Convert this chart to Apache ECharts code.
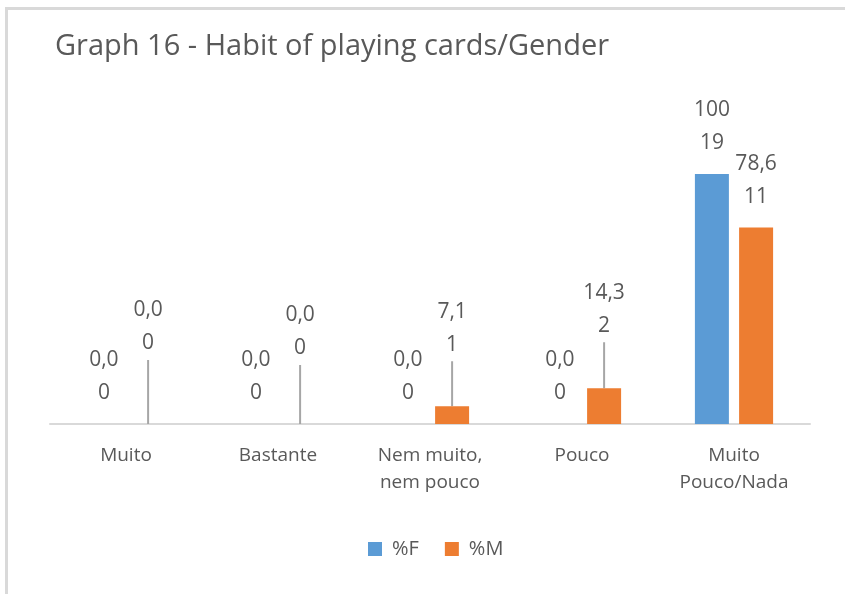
<!DOCTYPE html>
<html>
<head>
<meta charset="utf-8">
<script src="https://cdn.jsdelivr.net/npm/echarts@6/dist/echarts.min.js"></script>
<style>
 body { margin: 0; background: #fff; }
 #main { width: 845px; height: 594px; }
</style>
</head>
<body>
<div id="main"></div>
<script>
 var categories = ["Muito", "Bastante", "Nem muito,\nnem pouco", "Pouco", "Muito\nPouco/Nada"];
 var pctF = [0, 0, 0, 0, 100];
 var pctM = [0, 0, 7.1, 14.3, 78.6];
 var countF = [0, 0, 0, 0, 19];
 var countM = [0, 0, 1, 2, 11];
 // how far the %M labels were dragged up in the original
 var liftM = [-50, -45, -31, -32, 0];

 var textColor = "#595959";
 var font = "'Open Sans', 'Noto Sans', sans-serif";

 function fmt(v) {
  if (v === 100) return "100";
  return v.toFixed(1).replace(".", ",");
 }

 var dataM = pctM.map(function(v, i) {
  return { value: v, labelLine: { show: liftM[i] !== 0 } };
 });

 var myChart = echarts.init(document.getElementById("main"));
 var option = {
  backgroundColor: "#fff",
  animation: false,
  title: {
   text: "Graph 16 - Habit of playing cards/Gender",
   left: 50,
   top: 27,
   textStyle: { color: textColor, fontSize: 29, fontWeight: "normal", fontFamily: font }
  },
  graphic: [
   { type: "rect", shape: { x: 5, y: 7, width: 840, height: 3 }, style: { fill: "#d9d9d9" } },
   { type: "rect", shape: { x: 5, y: 7, width: 3, height: 587 }, style: { fill: "#d9d9d9" } }
  ],
  legend: {
   bottom: 30,
   left: 363,
   itemWidth: 14,
   itemHeight: 14,
   itemGap: 26,
   icon: "rect",
   textStyle: { color: textColor, fontSize: 20, fontFamily: font, padding: [0, 0, 0, 5] },
   data: ["%F", "%M"]
  },
  grid: { left: 50, right: 35, top: 124, bottom: 170 },
  xAxis: {
   type: "category",
   data: categories,
   axisLine: { lineStyle: { color: "#d9d9d9", width: 2 } },
   axisTick: { show: false },
   axisLabel: { color: textColor, fontSize: 19, fontFamily: font, margin: 18, lineHeight: 27, interval: 0 }
  },
  yAxis: {
   type: "value",
   min: 0,
   max: 120,
   show: false,
   splitLine: { show: false }
  },
  series: [
   {
    name: "%F",
    type: "bar",
    barWidth: 34,
    barGap: "30%",
    itemStyle: { color: "#5b9bd5" },
    data: pctF,
    label: {
     show: true,
     position: "top",
     distance: 14,
     color: textColor,
     fontSize: 21,
     lineHeight: 33,
     fontFamily: font,
     formatter: function(p) { return fmt(p.value) + "\n" + countF[p.dataIndex]; }
    }
   },
   {
    name: "%M",
    type: "bar",
    barWidth: 34,
    itemStyle: { color: "#ed7d31" },
    data: dataM,
    label: {
     show: true,
     position: "top",
     distance: 14,
     color: textColor,
     fontSize: 21,
     lineHeight: 33,
     fontFamily: font,
     formatter: function(p) { return fmt(p.value) + "\n" + countM[p.dataIndex]; }
    },
    labelLine: { show: true, lineStyle: { color: "#a6a6a6", width: 2 } },
    labelLayout: function(p) {
     return { dy: liftM[p.dataIndex] };
    }
   }
  ]
 };
 myChart.setOption(option, true);
</script>
</body>
</html>
